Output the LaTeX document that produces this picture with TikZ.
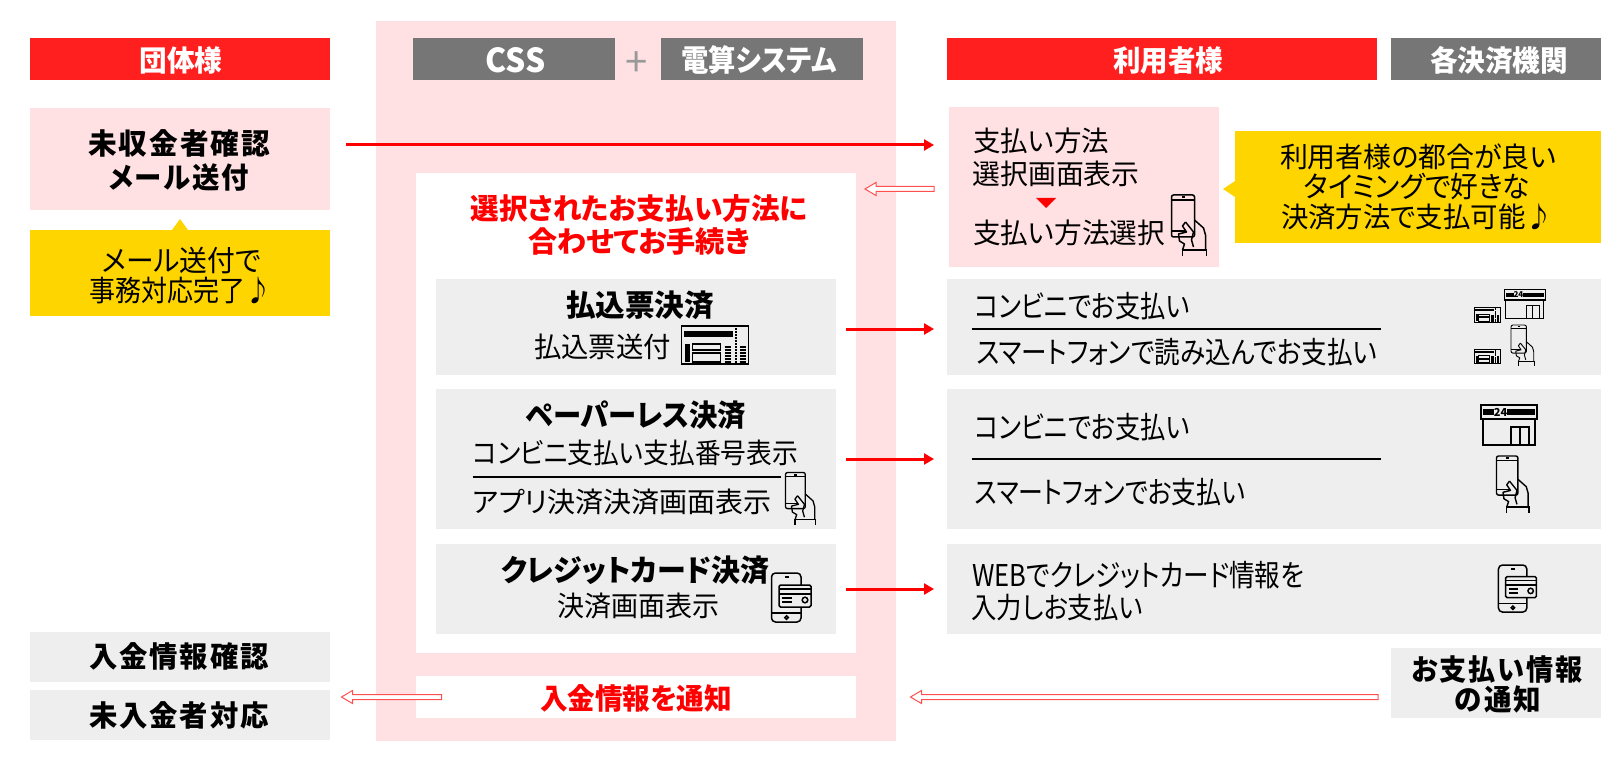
\documentclass[tikz,border=0pt]{standalone}
\usepackage{graphicx}
\usepackage{fontspec}
\setmainfont[RawFeature=+palt]{Noto Sans CJK JP}
\usetikzlibrary{arrows.meta,calc}
\definecolor{rd}{HTML}{FF1F1F}
\definecolor{rt}{HTML}{FF0000}
\definecolor{gy}{HTML}{767676}
\definecolor{pk}{HTML}{FFE1E3}
\definecolor{yl}{HTML}{FFD500}
\definecolor{lg}{HTML}{EEEEEE}
\definecolor{hl}{HTML}{FF5050}
\newcommand\fw[2]{\sbox0{#2}\pgfmathsetmacro\fwr{#1/(\wd0/1pt)}\scalebox{\fwr}[1]{\usebox0}}
\newcommand\spc[1]{{\addfontfeature{LetterSpace=7}#1}}
\tikzset{
  bx/.style={inner sep=0,outer sep=0,minimum width=#1},
  txt/.style={inner sep=0,outer sep=0,font=\fontsize{#1}{#1}\selectfont,text height=.88*#1,text depth=.12*#1},
  tb/.style={txt=#1,font=\fontsize{#1}{#1}\selectfont\bfseries},
  redarrow/.style={draw=rt,line width=3pt,-{Triangle[length=10pt,width=11pt]}},
  hollowarrow/.style={draw=hl,line width=1pt,fill=white,line join=miter,to path={
    ($(\tikztostart)+(0,-2.5)$) -- ($(\tikztostart)+(0,2.5)$) -- ($(\tikztotarget)+(11,2.5)$)
    -- ($(\tikztotarget)+(11,6.5)$) -- (\tikztotarget) -- ($(\tikztotarget)+(11,-6.5)$)
    -- ($(\tikztotarget)+(11,-2.5)$) -- cycle}},
  divider/.style={draw=black,line width=2pt},
  pics/phonehand/.style={code={
    \draw[rounded corners=2] (0,0) rectangle (23,42);
    \draw (0,5) -- (23,5) (0,36) -- (14,36);
    \fill (10,1.2) rectangle (13,3.5);
    \draw[line join=round] (23,25) -- (32,33) -- (34,40) -- (34,55);
    \draw[line join=round] (14,27) -- (22,37) -- (20,45) -- (22,52);
    \draw[line join=round] (14,27) -- (11,31) -- (15,37) -- (7,39) -- (8,46) -- (13,49) -- (11,55);
    \draw (11,61) -- (11,55) -- (35,55) -- (35,61);
  }},
  pics/voucher/.style={code={
    \draw (0,0) rectangle (67,38);
    \fill (2.5,4.5) rectangle (51,10.5);
    \fill (3,18) rectangle (8,36);
    \draw (11,18) rectangle (39,24) (11,27) rectangle (39,36);
    \foreach \yy in {21,24,...,36}{
      \draw[line width=1.4pt] (43,\yy) -- (49,\yy) (58,\yy) -- (64,\yy);
    }
    \foreach \yy in {2,5,...,35}{
      \fill (53.6,\yy) rectangle (55,\yy+1.5);
    }
  }},
  pics/storeicon/.style={code={
    \draw (1,1) rectangle (57,15);
    \fill (3,5) rectangle (55,11);
    \fill[lg] (14,4) rectangle (27,12);
    \node[inner sep=0,transform shape,font=\fontsize{11}{11}\selectfont\bfseries] (#1-n) at (20.5,8) {24};
    \draw (3,15) -- (3,41) -- (55,41) -- (55,15);
    \draw (31,41) -- (31,23) -- (49,23) -- (49,41) (40,23) -- (40,41);
  }},
  pics/cardphone/.style={code={
    \draw[rounded corners=4] (0.5,0) rectangle (30,49);
    \draw (0.5,40) -- (30,40);
    \draw (14,4) -- (18,4);
    \draw (15.5,44.5) circle (1.7);
    \draw[fill=lg,rounded corners=1.5] (8,12) rectangle (40,34);
    \draw (8,16) -- (40,16) (8,21) -- (40,21);
    \draw (11,25) -- (21,25) (11,29) -- (21,29);
    \draw (34,27) circle (2.8);
  }},
}
\begin{document}
\begin{tikzpicture}[x=1pt,y=-1pt]
\useasboundingbox (0,0) rectangle (1601,770);
\fill[white] (0,0) rectangle (1601,770);
% panels and boxes
\node[bx=520,minimum height=720,fill=pk] (panel) at (636,381) {};
\node[bx=300,minimum height=42,fill=rd] (dantai) at (180,59) {};
\node[bx=202,minimum height=42,fill=gy] (css) at (514,59) {};
\node[bx=202,minimum height=42,fill=gy] (densan) at (762,59) {};
\node[bx=430,minimum height=42,fill=rd] (riyo) at (1162,59) {};
\node[bx=210,minimum height=42,fill=gy] (kaku) at (1496,59) {};
\node[bx=300,minimum height=102,fill=pk] (mishu) at (180,159) {};
\node[bx=300,minimum height=86,fill=yl] (ymail) at (180,273) {};
\node[bx=440,minimum height=480,fill=white] (inner) at (636,413) {};
\node[bx=400,minimum height=96,fill=lg] (haraikomi) at (636,327) {};
\node[bx=400,minimum height=140,fill=lg] (paperless) at (636,459) {};
\node[bx=400,minimum height=90,fill=lg] (credit) at (636,589) {};
\node[bx=440,minimum height=42,fill=white] (notify) at (636,697) {};
\node[bx=300,minimum height=50,fill=lg] (nyukin) at (180,657) {};
\node[bx=300,minimum height=50,fill=lg] (minyu) at (180,715) {};
\node[bx=270,minimum height=160,fill=pk] (select) at (1084,187) {};
\node[bx=366,minimum height=112,fill=yl] (yuser) at (1418,187) {};
\node[bx=654,minimum height=96,fill=lg] (row1) at (1274,327) {};
\node[bx=654,minimum height=140,fill=lg] (row2) at (1274,459) {};
\node[bx=654,minimum height=90,fill=lg] (row3) at (1274,589) {};
\node[bx=210,minimum height=70,fill=lg] (tsuchi) at (1496,683) {};
% callout pointers
\fill[yl] (172,230) -- (180,219) -- (188,230) -- cycle;
\fill[yl] (1235,181) -- (1223,189) -- (1235,197) -- cycle;
\fill[rt] (1036,198) -- (1056,198) -- (1046,208) -- cycle;
% headers
\node[tb=29,text=white] (t1) at (181,60) {\fw{83}{団体様}};
\node[tb=33,text=white] (t2) at (515.5,60) {\fw{60}{CSS}};
\node[txt=40,text=gray!80] (plus) at (636.6,61) {+};
\node[tb=30,text=white] (t3) at (759,60) {\fw{155}{電算システム}};
\node[tb=29,text=white] (t4) at (1168,60) {\fw{110}{利用者様}};
\node[tb=29,text=white] (t5) at (1499,60) {\fw{138}{各決済機関}};
% left column
\node[tb=29] (t6) at (179,143) {\fw{182}{\spc{未収金者確認}}};
\node[tb=29] (t7) at (179,177) {\fw{140}{\spc{メール送付}}};
\node[txt=29] (t8) at (181.5,260) {\fw{159}{メール送付で}};
\node[txt=29] (t9) at (180,290) {\fw{182}{事務対応完了♪}};
\node[tb=29] (t10) at (179,656) {\fw{180}{\spc{入金情報確認}}};
\node[tb=29] (t11) at (179,715) {\fw{180}{\spc{未入金者対応}}};
% centre
\node[tb=29,text=rt] (t12) at (639,208) {\fw{337}{選択されたお支払い方法に}};
\node[tb=29,text=rt] (t13) at (639,241) {\fw{222}{合わせてお手続き}};
\node[tb=30] (t14) at (640,305) {\fw{148}{払込票決済}};
\node[txt=28] (t15) at (602.5,347) {\fw{137}{払込票送付}};
\node[tb=30] (t16) at (636,415) {\fw{220}{ペーパーレス決済}};
\node[txt=28] (t17) at (635.5,453) {\fw{325}{コンビニ支払い支払番号表示}};
\node[txt=28] (t18) at (622.5,502) {\fw{299}{アプリ決済決済画面表示}};
\node[tb=30] (t19) at (635,570) {\fw{268}{クレジットカード決済}};
\node[txt=28] (t20) at (638,606) {\fw{162}{決済画面表示}};
\node[tb=29,text=rt] (t21) at (636,698) {\fw{192}{入金情報を通知}};
% right
\node[txt=28] (t22) at (1041,141) {\fw{136}{支払い方法}};
\node[txt=28] (t23) at (1056,174) {\fw{167}{選択画面表示}};
\node[txt=28] (t24) at (1069,233) {\fw{192}{支払い方法選択}};
\node[txt=28] (t25) at (1418,157) {\fw{276}{利用者様の都合が良い}};
\node[txt=29] (t26) at (1417,186) {\fw{226}{タイミングで好きな}};
\node[txt=28] (t27) at (1417,217) {\fw{272}{決済方法で支払可能♪}};
\node[txt=30] (t28) at (1082.5,306) {\fw{215}{コンビニでお支払い}};
\node[txt=30] (t29) at (1177,352) {\fw{400}{スマートフォンで読み込んでお支払い}};
\node[txt=30] (t30) at (1082.5,427) {\fw{215}{コンビニでお支払い}};
\node[txt=30] (t31) at (1110,492) {\fw{270}{スマートフォンでお支払い}};
\node[txt=30] (t32) at (1138,575) {\fw{332}{WEBでクレジットカード情報を}};
\node[txt=29] (t33) at (1057,607) {\fw{171}{入力しお支払い}};
\node[tb=29] (t34) at (1497,669) {\fw{171}{\spc{お支払い情報}}};
\node[tb=29] (t35) at (1498,699) {\fw{86}{\spc{の通知}}};
% dividers
\coordinate (d1a) at (971.5,329); \coordinate (d1b) at (1380.5,329);
\coordinate (d2a) at (971.5,459); \coordinate (d2b) at (1380.5,459);
\coordinate (d3a) at (472.5,477); \coordinate (d3b) at (781,477);
\draw[divider] (d1a) -- (d1b);
\draw[divider] (d2a) -- (d2b);
\draw[divider] (d3a) -- (d3b);
% connectors
\coordinate (a1s) at (346,145); \coordinate (a1e) at (934,145);
\coordinate (a2s) at (846,329); \coordinate (a2e) at (934,329);
\coordinate (a3s) at (846,459); \coordinate (a3e) at (934,459);
\coordinate (a4s) at (846,589); \coordinate (a4e) at (934,589);
\draw[redarrow] (a1s) -- (a1e);
\draw[redarrow] (a2s) -- (a2e);
\draw[redarrow] (a3s) -- (a3e);
\draw[redarrow] (a4s) -- (a4e);
\coordinate (h1s) at (934,189); \coordinate (h1e) at (865,189);
\coordinate (h2s) at (1378,697); \coordinate (h2e) at (910.5,697);
\coordinate (h3s) at (441.5,697); \coordinate (h3e) at (341.5,697);
\draw[hollowarrow] (h1s) to (h1e);
\draw[hollowarrow] (h2s) to (h2e);
\draw[hollowarrow] (h3s) to (h3e);
% icons
\pic[line width=1.5pt] (p1) at (1171.5,195) {phonehand};
\pic[line width=1.3pt,scale=.86] (p2) at (785.5,472.5) {phonehand};
\pic[line width=1.4pt,scale=.93] (p3) at (1496.5,456) {phonehand};
\pic[line width=.9pt,scale=.67] (p4) at (1511,325) {phonehand};
\pic[line width=1.5pt] (v1) at (681.5,326) {voucher};
\pic[line width=.8pt,xscale=.39,yscale=.38] (v2) at (1474.5,307.5) {voucher};
\pic[line width=.8pt,xscale=.39,yscale=.38] (v3) at (1474.5,349) {voucher};
\pic[line width=1.5pt] (s1) at (1480,404) {storeicon=s1};
\pic[line width=1.1pt,scale=.73] (s2) at (1503.5,289) {storeicon=s2};
\pic[line width=1.5pt] (c1) at (771,573) {cardphone};
\pic[line width=1.5pt,scale=.96] (c2) at (1498,565) {cardphone};
\end{tikzpicture}
\end{document}
